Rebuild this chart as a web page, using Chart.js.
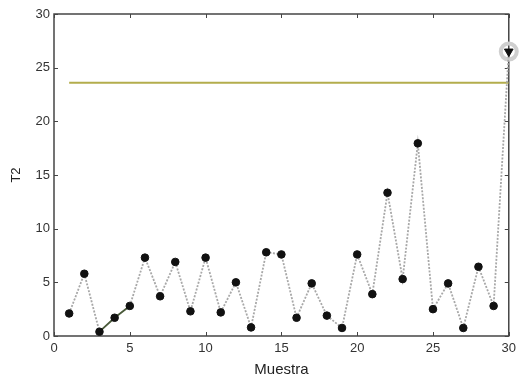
<!DOCTYPE html>
<html>
<head>
<meta charset="utf-8">
<script src="https://cdn.jsdelivr.net/npm/chart.js@4/dist/chart.umd.min.js"></script>
<style>
    html, body { margin: 0; padding: 0; background: #fff; }
    #wrap { width: 521px; height: 383px; }
</style>
</head>
<body>
<div id="wrap"><canvas id="t2-chart" width="521" height="383"></canvas></div>
<script>
// Sample number (Muestra) and T2 values
const muestra = [1, 2, 3, 4, 5, 6, 7, 8, 9, 10, 11, 12, 13, 14, 15,
                 16, 17, 18, 19, 20, 21, 22, 23, 24, 25, 26, 27, 28, 29, 30];
const t2 = [2.1, 5.8, 0.4, 1.7, 2.8, 7.3, 3.7, 6.9, 2.3, 7.3, 2.2, 5.0, 0.8, 7.8, 7.6,
            1.7, 4.9, 1.9, 0.75, 7.6, 3.9, 13.35, 5.3, 17.95, 2.5, 4.9, 0.75, 6.45, 2.8, 26.5];

// Control limit line
const limitX = [1, 30];
const limitY = [23.6, 23.6];

// Highlighted (out of control) sample
const flaggedX = [30];
const flaggedY = [26.5];

const xTicks = [0, 5, 10, 15, 20, 25, 30];
const yTicks = [0, 5, 10, 15, 20, 25, 30];

const FONT = 'Liberation Sans, Arial, sans-serif';

// Matlab style box with inward ticks
const boxPlugin = {
    id: 'box',
    beforeDatasetsDraw(chart) {
        const { ctx, chartArea: a, scales } = chart;
        ctx.save();
        ctx.strokeStyle = '#454545';
        ctx.lineWidth = 1.5;
        ctx.strokeRect(a.left, a.top, a.right - a.left, a.bottom - a.top);
        ctx.lineWidth = 1;
        ctx.beginPath();
        xTicks.forEach(v => {
            const px = Math.round(scales.x.getPixelForValue(v)) + 0.5;
            ctx.moveTo(px, a.bottom); ctx.lineTo(px, a.bottom - 4);
            ctx.moveTo(px, a.top); ctx.lineTo(px, a.top + 4);
        });
        yTicks.forEach(v => {
            const py = Math.round(scales.y.getPixelForValue(v)) + 0.5;
            ctx.moveTo(a.left, py); ctx.lineTo(a.left + 4, py);
            ctx.moveTo(a.right, py); ctx.lineTo(a.right - 4, py);
        });
        ctx.stroke();
        ctx.restore();
    }
};

const ctx = document.getElementById('t2-chart').getContext('2d');

new Chart(ctx, {
    type: 'scatter',
    data: {
        datasets: [
            {
                label: 'Limite',
                data: limitX.map((x, i) => ({ x: x, y: limitY[i] })),
                showLine: true,
                borderColor: '#b3ad4c',
                borderWidth: 2,
                pointRadius: 0,
                order: 3
            },
            {
                label: 'Fuera de control',
                data: flaggedX.map((x, i) => ({ x: x, y: flaggedY[i] })),
                clip: false,
                pointRadius: 8,
                pointBorderWidth: 4,
                pointBorderColor: '#cfcfcf',
                pointBackgroundColor: 'rgba(0,0,0,0)',
                order: 2
            },
            {
                label: 'T2',
                data: muestra.map((x, i) => ({ x: x, y: t2[i] })),
                clip: false,
                showLine: true,
                borderColor: '#a8a8a8',
                borderWidth: 1.8,
                borderDash: [2, 1.5],
                segment: {
                    borderColor: c => (c.p0DataIndex === 2 || c.p0DataIndex === 3) ? '#4a5a3a' : undefined,
                    borderDash: c => (c.p0DataIndex === 2 || c.p0DataIndex === 3) ? [] : undefined
                },
                pointRadius: muestra.map((x, i) => i === muestra.length - 1 ? 5 : 3.8),
                pointStyle: muestra.map((x, i) => i === muestra.length - 1 ? 'triangle' : 'circle'),
                rotation: muestra.map((x, i) => i === muestra.length - 1 ? 180 : 0),
                pointBackgroundColor: '#111',
                pointBorderColor: '#111',
                pointBorderWidth: 1,
                order: 1
            }
        ]
    },
    options: {
        responsive: false,
        animation: false,
        layout: { padding: { left: 9, top: 14, right: 9, bottom: 0 } },
        plugins: {
            legend: { display: false },
            tooltip: { enabled: false }
        },
        scales: {
            x: {
                type: 'linear',
                min: 0,
                max: 30,
                afterBuildTicks: s => { s.ticks = xTicks.map(v => ({ value: v })); },
                afterFit: s => { s.height = 47; },
                grid: { display: false, drawTicks: false },
                border: { display: false },
                ticks: { color: '#333', padding: 5, font: { family: FONT, size: 13 } },
                title: {
                    display: true,
                    text: 'Muestra',
                    color: '#222',
                    padding: { top: 0, bottom: 4 },
                    font: { family: FONT, size: 15 }
                }
            },
            y: {
                type: 'linear',
                min: 0,
                max: 30,
                afterBuildTicks: s => { s.ticks = yTicks.map(v => ({ value: v })); },
                afterFit: s => { s.width = 45; },
                grid: { display: false, drawTicks: false },
                border: { display: false },
                ticks: { color: '#333', padding: 4, font: { family: FONT, size: 13 } },
                title: {
                    display: true,
                    text: 'T2',
                    color: '#222',
                    padding: { top: 0, bottom: 0 },
                    font: { family: FONT, size: 13 }
                }
            }
        }
    },
    plugins: [boxPlugin]
});
</script>
</body>
</html>
